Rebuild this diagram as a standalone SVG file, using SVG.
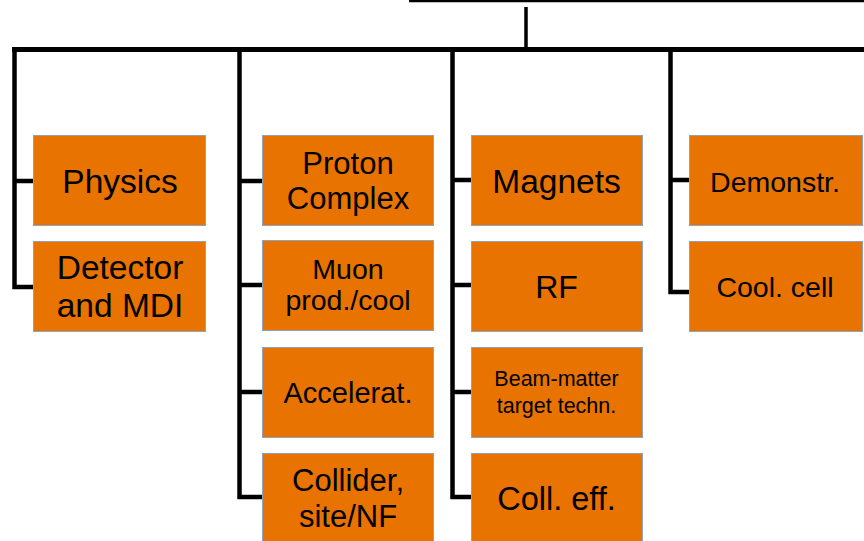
<svg xmlns="http://www.w3.org/2000/svg" width="864" height="541" viewBox="0 0 864 541">
<style>
.box{fill:#E97300;stroke:#8EA2C4;stroke-width:1}
.t{font-family:"Liberation Sans",Arial,sans-serif;fill:#000;text-anchor:middle}
.c{stroke:#000;fill:none;stroke-linecap:butt;stroke-linejoin:miter}
</style>
<rect width="864" height="541" fill="#fff"/>
<g id="connectors">
<line class="c" x1="409" y1="1" x2="864" y2="1" stroke-width="2.5"/>
<line class="c" x1="526" y1="7" x2="526" y2="48" stroke-width="3.5"/>
<line class="c" x1="12" y1="49.5" x2="864" y2="49.5" stroke-width="5"/>
<path class="c" stroke-width="4.5" d="M14.5,49 V289 M12.5,181 H33 M12.5,287 H33"/>
<path class="c" stroke-width="4.5" d="M239.5,49 V499 M237.5,181 H262 M237.5,285 H262 M237.5,392 H262 M237.5,497 H262"/>
<path class="c" stroke-width="4.5" d="M452.5,49 V499 M450.5,180 H471 M450.5,285 H471 M450.5,392 H471 M450.5,497 H471"/>
<path class="c" stroke-width="4.5" d="M670.5,49 V294 M668.5,180 H689 M668.5,292 H689"/>
</g>
<g id="physics"><rect class="box" x="33.5" y="135.5" width="172" height="90"/><text class="t" x="120" y="193" font-size="33.5">Physics</text></g>
<g id="detector"><rect class="box" x="33.5" y="241.5" width="172" height="90"/><text class="t" x="120" y="279" font-size="33.5">Detector</text><text class="t" x="120" y="317" font-size="33.5">and MDI</text></g>
<g id="proton"><rect class="box" x="262.5" y="135.5" width="171" height="90"/><text class="t" x="348" y="174" font-size="31">Proton</text><text class="t" x="348" y="209" font-size="31">Complex</text></g>
<g id="muon"><rect class="box" x="262.5" y="240.5" width="171" height="90"/><text class="t" x="348" y="279" font-size="28.5">Muon</text><text class="t" x="348" y="310" font-size="28.5">prod./cool</text></g>
<g id="accelerat"><rect class="box" x="262.5" y="347.5" width="171" height="90"/><text class="t" x="348" y="403" font-size="29">Accelerat.</text></g>
<g id="collider"><rect class="box" x="262.5" y="453.5" width="171" height="90"/><text class="t" x="348" y="491" font-size="31">Collider,</text><text class="t" x="348" y="527" font-size="31">site/NF</text></g>
<g id="magnets"><rect class="box" x="471.5" y="135.5" width="171" height="90"/><text class="t" x="556.5" y="193" font-size="33.5">Magnets</text></g>
<g id="rf"><rect class="box" x="471.5" y="241.5" width="171" height="90"/><text class="t" x="556.5" y="298" font-size="32">RF</text></g>
<g id="beam"><rect class="box" x="471.5" y="347.5" width="171" height="90"/><text class="t" x="556.5" y="386" font-size="21.5">Beam-matter</text><text class="t" x="556.5" y="413" font-size="21.5">target techn.</text></g>
<g id="colleff"><rect class="box" x="471.5" y="453.5" width="171" height="90"/><text class="t" x="556.5" y="510" font-size="32.5">Coll. eff.</text></g>
<g id="demonstr"><rect class="box" x="689.5" y="135.5" width="173" height="90"/><text class="t" x="775" y="192" font-size="28.5">Demonstr.</text></g>
<g id="coolcell"><rect class="box" x="689.5" y="241.5" width="173" height="90"/><text class="t" x="775" y="297" font-size="28.5">Cool. cell</text></g>
</svg>
